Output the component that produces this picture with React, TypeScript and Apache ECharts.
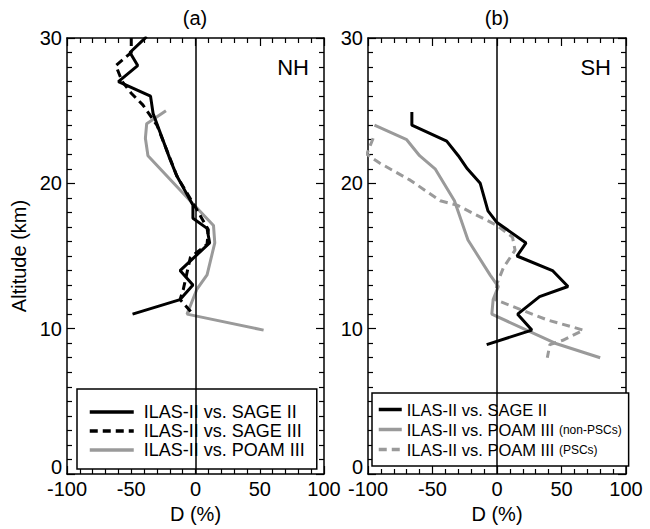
import React, { useEffect, useRef } from "react";
import * as echarts from "echarts";

// Panel (a) NH
const nhSage2Alt = [30.1, 29, 28.1, 27, 26, 24.8, 21.7, 20.5, 18.5, 17.6, 16.9, 15.9, 14, 13, 12, 11];
const nhSage2D = [-38, -51, -45, -60, -35, -33, -20, -14.5, -2, -2, 9, 11, -12, -2, -12, -49];

const nhSage3Alt = [30, 29, 28.1, 27, 26.2, 25.4, 24, 22.2, 20.5, 18.2, 16.8, 15.8, 14.9, 13.9, 12.7, 12, 11];
const nhSage3D = [-50, -50, -62, -57, -50, -41, -30, -22, -14.5, 1, 10, 9, -4, -6.5, -9.5, -12, -2];

const nhPoamAlt = [25, 24.1, 23.1, 21.9, 18.6, 17.1, 15.9, 13.7, 12.7, 11, 9.9];
const nhPoamD = [-23, -38, -39, -37, -2, 14, 15, 9, 1, -6.6, 53];

// Panel (b) SH
const shSage2Alt = [24.9, 24, 22.9, 21.9, 21, 20, 18.1, 17.3, 15.9, 15, 14, 12.9, 12.2, 11, 9.9, 8.9];
const shSage2D = [-66, -66, -39, -30, -23, -13, -7, 0, 22.5, 15.5, 43, 55, 33, 16, 27, -8];

const shPoamNonAlt = [24, 23, 21.9, 21, 18.8, 16.1, 13.7, 12.9, 12, 11, 9, 8];
const shPoamNonD = [-95, -70, -60, -48, -33, -22.5, -5.4, 1, -3, -4, 45, 80];

const shPoamPscAlt = [23.1, 22, 21.4, 20.2, 18.8, 18.5, 17.1, 16.3, 15.4, 14.2, 13.1, 12, 10.6, 9.9, 9.2, 8.9, 8];
const shPoamPscD = [-96, -101, -91, -67, -44, -31, 0, 12, 14, 5, 0, -1.5, 39, 67, 51, 41, 39];

const xTicks = [-100, -50, 0, 50, 100];
const yTicks = [0, 10, 20, 30];

const NAME_S2 = "ILAS-II vs. SAGE II";
const NAME_S3 = "ILAS-II vs. SAGE III";
const NAME_P3 = "ILAS-II vs. POAM III";
const NAME_NON = "ILAS-II vs. POAM III (non-PSCs)";
const NAME_PSC = "ILAS-II vs. POAM III (PSCs)";

const FONT = "Liberation Sans, Arial, Helvetica, sans-serif";
const GRAY = "#9a9a9a";

const zip = (d: number[], a: number[]) => d.map((v, i) => [v, a[i]]);

export default function App() {
  const ref = useRef<HTMLDivElement>(null);
  useEffect(() => {
    if (!ref.current) return;
    const chart = echarts.init(ref.current, undefined, { renderer: "svg" });

    const xAxisBase = (gridIndex: number, top: boolean, name?: string) => ({
      type: "value",
      gridIndex,
      position: top ? "top" : "bottom",
      min: xTicks[0],
      max: xTicks[xTicks.length - 1],
      interval: 50,
      name: name,
      nameLocation: "middle",
      nameGap: 30,
      nameTextStyle: { fontSize: 20, color: "#000", fontFamily: FONT },
      axisLine: { show: true, onZero: false, lineStyle: { color: "#000", width: 1.5 } },
      axisTick: { show: true, inside: true, length: 8, lineStyle: { color: "#000", width: 1.2 } },
      minorTick: { show: true, splitNumber: 5, length: 5, lineStyle: { color: "#000", width: 1.2 } },
      axisLabel: {
        show: !top,
        fontSize: 20,
        color: "#000",
        fontFamily: FONT,
        margin: 5,
      },
      splitLine: { show: false },
    });

    const yAxisBase = (gridIndex: number, right: boolean, name?: string) => ({
      type: "value",
      gridIndex,
      position: right ? "right" : "left",
      min: yTicks[0],
      max: yTicks[yTicks.length - 1],
      interval: 10,
      name: name,
      nameLocation: "middle",
      nameGap: 38,
      nameTextStyle: { fontSize: 20, color: "#000", fontFamily: FONT },
      axisLine: { show: true, onZero: false, lineStyle: { color: "#000", width: 1.5 } },
      axisTick: { show: true, inside: true, length: 8, lineStyle: { color: "#000", width: 1.2 } },
      minorTick: { show: true, splitNumber: 10, length: 5, lineStyle: { color: "#000", width: 1.2 } },
      axisLabel: {
        show: !right,
        fontSize: 20,
        color: "#000",
        fontFamily: FONT,
        margin: 5,
        formatter: (v: number) => (v === 0 ? "{z|0}" : String(v)),
        rich: { z: { fontSize: 20, color: "#000", fontFamily: FONT, padding: [0, 0, 14, 0] } },
      },
      splitLine: { show: false },
    });

    const zeroLine = {
      silent: true,
      symbol: "none",
      label: { show: false },
      lineStyle: { color: "#000", width: 1.5, type: "solid" },
      data: [{ xAxis: 0 }],
    };

    const lineSeries = (
      name: string,
      xi: number,
      yi: number,
      data: number[][],
      color: string,
      dashed: boolean,
      extra: any = {}
    ) => ({
      type: "line",
      name,
      xAxisIndex: xi,
      yAxisIndex: yi,
      data,
      symbol: "none",
      clip: true,
      lineStyle: { color, width: 3, type: dashed ? [8, 5] : "solid" },
      itemStyle: { color },
      ...extra,
    });

    chart.setOption({
      animation: false,
      textStyle: { fontFamily: FONT },
      grid: [
        { left: 67, right: 326, top: 38, bottom: 49 },
        { left: 368, right: 24, top: 38, bottom: 49 },
      ],
      xAxis: [
        xAxisBase(0, false, "D (%)"),
        xAxisBase(0, true),
        xAxisBase(1, false, "D (%)"),
        xAxisBase(1, true),
      ],
      yAxis: [
        yAxisBase(0, false, "Altitude (km)"),
        yAxisBase(0, true),
        yAxisBase(1, false),
        yAxisBase(1, true),
      ],
      legend: [
        {
          orient: "vertical",
          left: 77,
          top: 389,
          data: [NAME_S2, NAME_S3, NAME_P3],
          selectedMode: false,
          backgroundColor: "#fff",
          borderColor: "#000",
          borderWidth: 1.5,
          padding: [14, 12, 10, 11],
          itemWidth: 44,
          itemHeight: 14,
          itemGap: 1,
          itemStyle: { opacity: 0 },
          lineStyle: { width: 3.5 },
          textStyle: { fontSize: 18, color: "#000", fontFamily: FONT, padding: [0, 0, 0, 5] },
        },
        {
          orient: "vertical",
          left: 372,
          top: 393,
          data: [NAME_S2, NAME_NON, NAME_PSC],
          selectedMode: false,
          backgroundColor: "#fff",
          borderColor: "#000",
          borderWidth: 1.5,
          padding: [8, 7, 8, 5],
          itemWidth: 23,
          itemHeight: 14,
          itemGap: 3,
          itemStyle: { opacity: 0 },
          lineStyle: { width: 3.5 },
          formatter: (n: string) => {
            const m = n.match(/^(.*) (\(.*\))$/);
            return m ? `${m[1]} {s|${m[2]}}` : n;
          },
          textStyle: {
            fontSize: 16.5,
            color: "#000",
            fontFamily: FONT,
            rich: { s: { fontSize: 12, color: "#000", fontFamily: FONT } },
          },
        },
      ],
      graphic: [
        { type: "text", x: 195, y: 18, style: { text: "(a)", font: `20px ${FONT}`, fill: "#000", textAlign: "center", textVerticalAlign: "middle" } },
        { type: "text", x: 497, y: 18, style: { text: "(b)", font: `20px ${FONT}`, fill: "#000", textAlign: "center", textVerticalAlign: "middle" } },
        { type: "text", x: 309, y: 67, style: { text: "NH", font: `22px ${FONT}`, fill: "#000", textAlign: "right", textVerticalAlign: "middle" } },
        { type: "text", x: 611, y: 67, style: { text: "SH", font: `22px ${FONT}`, fill: "#000", textAlign: "right", textVerticalAlign: "middle" } },
      ],
      series: [
        lineSeries(NAME_P3, 0, 0, zip(nhPoamD, nhPoamAlt), GRAY, false, { markLine: zeroLine }),
        lineSeries(NAME_S3, 0, 0, zip(nhSage3D, nhSage3Alt), "#000", true),
        lineSeries(NAME_S2, 0, 0, zip(nhSage2D, nhSage2Alt), "#000", false),
        lineSeries(NAME_NON, 2, 2, zip(shPoamNonD, shPoamNonAlt), GRAY, false, { markLine: zeroLine }),
        lineSeries(NAME_PSC, 2, 2, zip(shPoamPscD, shPoamPscAlt), GRAY, true),
        lineSeries(NAME_S2, 2, 2, zip(shSage2D, shSage2Alt), "#000", false),
      ],
    });
    return () => chart.dispose();
  }, []);
  return (
    <div
      ref={ref}
      style={{ position: "fixed", left: 0, top: 0, width: 650, height: 529, background: "#fff" }}
    />
  );
}
